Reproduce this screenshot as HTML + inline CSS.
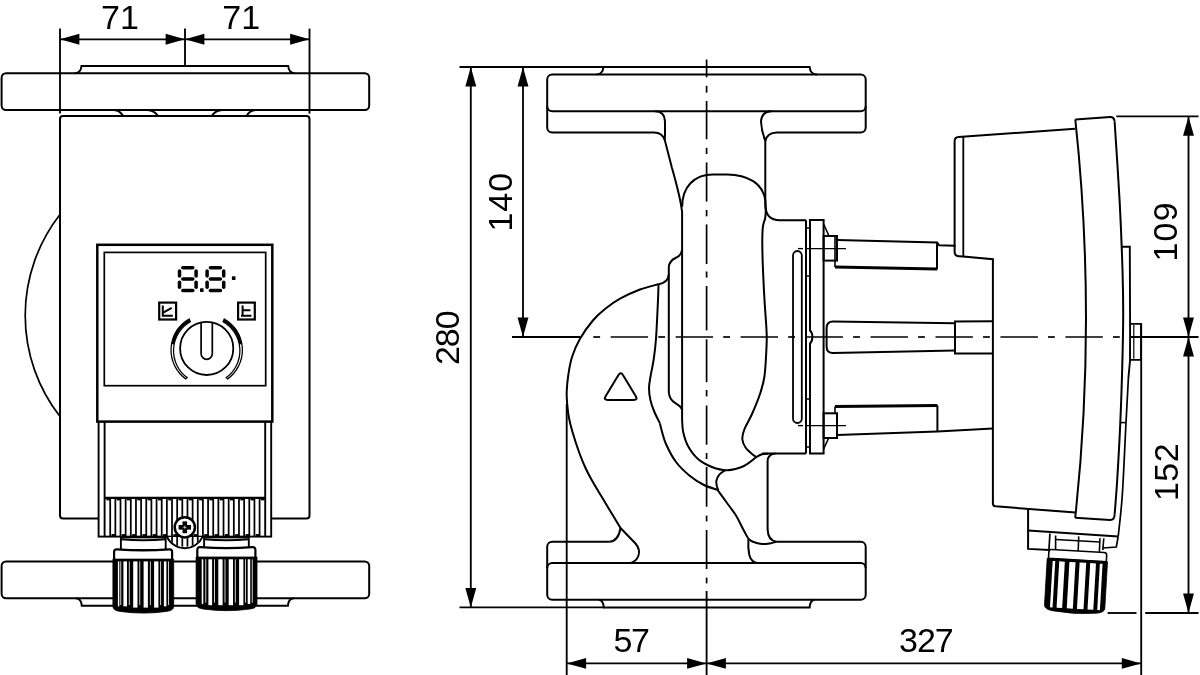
<!DOCTYPE html>
<html><head><meta charset="utf-8"><title>Pump dimension drawing</title>
<style>
html,body{margin:0;padding:0;background:#fff;}
body{width:1200px;height:675px;overflow:hidden;font-family:"Liberation Sans",sans-serif;}
svg{display:block;will-change:transform;}
</style></head><body>
<svg width="1200" height="675" viewBox="0 0 1200 675" font-family="Liberation Sans, sans-serif" fill="#000">
<rect x="1.60" y="73.20" width="367.60" height="36.80" rx="4.50" fill="#fff" stroke="#000" stroke-width="2.0"/>
<path d="M75,73.2 Q81,72.8 81.5,66 H288.2 Q288.7,72.8 294.7,73.2" fill="none" stroke="#000" stroke-width="2.0" />
<path d="M60,214.5 A164,164 0 0 0 60,416.5" fill="none" stroke="#000" stroke-width="1.7" />
<rect x="60.00" y="116.00" width="249.50" height="402.60" rx="3.00" fill="#fff" stroke="#000" stroke-width="2.0"/>
<path d="M114.0,110 Q120.0,110.3 123.0,116" fill="none" stroke="#000" stroke-width="2.0" />
<path d="M255.6,110 Q249.6,110.3 246.6,116" fill="none" stroke="#000" stroke-width="2.0" />
<path d="M147.3,110 Q154.2,110.3 158.0,116" fill="none" stroke="#000" stroke-width="2.0" />
<path d="M222.3,110 Q215.5,110.3 211.6,116" fill="none" stroke="#000" stroke-width="2.0" />
<rect x="98.60" y="400.00" width="172.60" height="136.60" rx="0.00" fill="#fff" stroke="#000" stroke-width="1.9"/>
<rect x="97.30" y="244.80" width="175.00" height="176.80" rx="0.00" fill="#fff" stroke="#000" stroke-width="2.5"/>
<rect x="104.30" y="252.40" width="161.40" height="133.30" rx="0.00" fill="none" stroke="#000" stroke-width="1.7"/>
<line x1="104.60" y1="421.60" x2="104.60" y2="536.60" stroke="#000" stroke-width="1.9" />
<line x1="265.20" y1="421.60" x2="265.20" y2="536.60" stroke="#000" stroke-width="1.9" />
<line x1="104.60" y1="497.90" x2="265.20" y2="497.90" stroke="#000" stroke-width="2.4" />
<line x1="110.20" y1="498.00" x2="110.20" y2="536.60" stroke="#000" stroke-width="1.75" />
<line x1="115.35" y1="498.00" x2="115.35" y2="536.60" stroke="#000" stroke-width="1.75" />
<line x1="120.50" y1="498.00" x2="120.50" y2="536.60" stroke="#000" stroke-width="1.75" />
<line x1="125.65" y1="498.00" x2="125.65" y2="536.60" stroke="#000" stroke-width="1.75" />
<line x1="130.80" y1="498.00" x2="130.80" y2="536.60" stroke="#000" stroke-width="1.75" />
<line x1="135.96" y1="498.00" x2="135.96" y2="536.60" stroke="#000" stroke-width="1.75" />
<line x1="141.11" y1="498.00" x2="141.11" y2="536.60" stroke="#000" stroke-width="1.75" />
<line x1="146.26" y1="498.00" x2="146.26" y2="536.60" stroke="#000" stroke-width="1.75" />
<line x1="151.41" y1="498.00" x2="151.41" y2="536.60" stroke="#000" stroke-width="1.75" />
<line x1="156.56" y1="498.00" x2="156.56" y2="536.60" stroke="#000" stroke-width="1.75" />
<line x1="161.71" y1="498.00" x2="161.71" y2="536.60" stroke="#000" stroke-width="1.75" />
<line x1="166.86" y1="498.00" x2="166.86" y2="536.60" stroke="#000" stroke-width="1.75" />
<line x1="172.01" y1="498.00" x2="172.01" y2="536.60" stroke="#000" stroke-width="1.75" />
<line x1="177.16" y1="498.00" x2="177.16" y2="536.60" stroke="#000" stroke-width="1.75" />
<line x1="182.31" y1="498.00" x2="182.31" y2="536.60" stroke="#000" stroke-width="1.75" />
<line x1="187.47" y1="498.00" x2="187.47" y2="536.60" stroke="#000" stroke-width="1.75" />
<line x1="192.62" y1="498.00" x2="192.62" y2="536.60" stroke="#000" stroke-width="1.75" />
<line x1="197.77" y1="498.00" x2="197.77" y2="536.60" stroke="#000" stroke-width="1.75" />
<line x1="202.92" y1="498.00" x2="202.92" y2="536.60" stroke="#000" stroke-width="1.75" />
<line x1="208.07" y1="498.00" x2="208.07" y2="536.60" stroke="#000" stroke-width="1.75" />
<line x1="213.22" y1="498.00" x2="213.22" y2="536.60" stroke="#000" stroke-width="1.75" />
<line x1="218.37" y1="498.00" x2="218.37" y2="536.60" stroke="#000" stroke-width="1.75" />
<line x1="223.52" y1="498.00" x2="223.52" y2="536.60" stroke="#000" stroke-width="1.75" />
<line x1="228.67" y1="498.00" x2="228.67" y2="536.60" stroke="#000" stroke-width="1.75" />
<line x1="233.82" y1="498.00" x2="233.82" y2="536.60" stroke="#000" stroke-width="1.75" />
<line x1="238.98" y1="498.00" x2="238.98" y2="536.60" stroke="#000" stroke-width="1.75" />
<line x1="244.13" y1="498.00" x2="244.13" y2="536.60" stroke="#000" stroke-width="1.75" />
<line x1="249.28" y1="498.00" x2="249.28" y2="536.60" stroke="#000" stroke-width="1.75" />
<line x1="254.43" y1="498.00" x2="254.43" y2="536.60" stroke="#000" stroke-width="1.75" />
<line x1="259.58" y1="498.00" x2="259.58" y2="536.60" stroke="#000" stroke-width="1.75" />
<line x1="106.40" y1="499.60" x2="109.90" y2="499.60" stroke="#000" stroke-width="1.6" />
<line x1="111.55" y1="535.20" x2="115.05" y2="535.20" stroke="#000" stroke-width="2.2" />
<line x1="116.70" y1="499.60" x2="120.20" y2="499.60" stroke="#000" stroke-width="1.6" />
<line x1="121.85" y1="535.20" x2="125.35" y2="535.20" stroke="#000" stroke-width="2.2" />
<line x1="127.00" y1="499.60" x2="130.50" y2="499.60" stroke="#000" stroke-width="1.6" />
<line x1="132.16" y1="535.20" x2="135.66" y2="535.20" stroke="#000" stroke-width="2.2" />
<line x1="137.31" y1="499.60" x2="140.81" y2="499.60" stroke="#000" stroke-width="1.6" />
<line x1="142.46" y1="535.20" x2="145.96" y2="535.20" stroke="#000" stroke-width="2.2" />
<line x1="147.61" y1="499.60" x2="151.11" y2="499.60" stroke="#000" stroke-width="1.6" />
<line x1="152.76" y1="535.20" x2="156.26" y2="535.20" stroke="#000" stroke-width="2.2" />
<line x1="157.91" y1="499.60" x2="161.41" y2="499.60" stroke="#000" stroke-width="1.6" />
<line x1="163.06" y1="535.20" x2="166.56" y2="535.20" stroke="#000" stroke-width="2.2" />
<line x1="168.21" y1="499.60" x2="171.71" y2="499.60" stroke="#000" stroke-width="1.6" />
<line x1="173.36" y1="535.20" x2="176.86" y2="535.20" stroke="#000" stroke-width="2.2" />
<line x1="178.51" y1="499.60" x2="182.01" y2="499.60" stroke="#000" stroke-width="1.6" />
<line x1="183.67" y1="535.20" x2="187.17" y2="535.20" stroke="#000" stroke-width="2.2" />
<line x1="188.82" y1="499.60" x2="192.32" y2="499.60" stroke="#000" stroke-width="1.6" />
<line x1="193.97" y1="535.20" x2="197.47" y2="535.20" stroke="#000" stroke-width="2.2" />
<line x1="199.12" y1="499.60" x2="202.62" y2="499.60" stroke="#000" stroke-width="1.6" />
<line x1="204.27" y1="535.20" x2="207.77" y2="535.20" stroke="#000" stroke-width="2.2" />
<line x1="209.42" y1="499.60" x2="212.92" y2="499.60" stroke="#000" stroke-width="1.6" />
<line x1="214.57" y1="535.20" x2="218.07" y2="535.20" stroke="#000" stroke-width="2.2" />
<line x1="219.72" y1="499.60" x2="223.22" y2="499.60" stroke="#000" stroke-width="1.6" />
<line x1="224.87" y1="535.20" x2="228.37" y2="535.20" stroke="#000" stroke-width="2.2" />
<line x1="230.02" y1="499.60" x2="233.52" y2="499.60" stroke="#000" stroke-width="1.6" />
<line x1="235.18" y1="535.20" x2="238.68" y2="535.20" stroke="#000" stroke-width="2.2" />
<line x1="240.33" y1="499.60" x2="243.83" y2="499.60" stroke="#000" stroke-width="1.6" />
<line x1="245.48" y1="535.20" x2="248.98" y2="535.20" stroke="#000" stroke-width="2.2" />
<line x1="250.63" y1="499.60" x2="254.13" y2="499.60" stroke="#000" stroke-width="1.6" />
<line x1="255.78" y1="535.20" x2="259.28" y2="535.20" stroke="#000" stroke-width="2.2" />
<line x1="260.93" y1="499.60" x2="264.43" y2="499.60" stroke="#000" stroke-width="1.6" />
<clipPath id="clipc"><circle cx="184.8" cy="527.3" r="19.6"/></clipPath>
<g clip-path="url(#clipc)">
<rect x="160" y="537" width="50" height="12" fill="#fff"/>
<line x1="166.86" y1="536.00" x2="166.86" y2="550.00" stroke="#000" stroke-width="1.75" />
<line x1="172.01" y1="536.00" x2="172.01" y2="550.00" stroke="#000" stroke-width="1.75" />
<line x1="177.16" y1="536.00" x2="177.16" y2="550.00" stroke="#000" stroke-width="1.75" />
<line x1="182.31" y1="536.00" x2="182.31" y2="550.00" stroke="#000" stroke-width="1.75" />
<line x1="187.47" y1="536.00" x2="187.47" y2="550.00" stroke="#000" stroke-width="1.75" />
<line x1="192.62" y1="536.00" x2="192.62" y2="550.00" stroke="#000" stroke-width="1.75" />
<line x1="197.77" y1="536.00" x2="197.77" y2="550.00" stroke="#000" stroke-width="1.75" />
<line x1="202.92" y1="536.00" x2="202.92" y2="550.00" stroke="#000" stroke-width="1.75" />
</g>
<path d="M166.9,536.6 A19.6,19.6 0 0 0 202.7,536.6" fill="none" stroke="#000" stroke-width="1.9" />
<circle cx="184.8" cy="527.3" r="10.1" fill="#fff" stroke="#000" stroke-width="2.5"/>
<line x1="178.60" y1="527.30" x2="191.00" y2="527.30" stroke="#000" stroke-width="4.6" />
<line x1="184.80" y1="521.40" x2="184.80" y2="533.20" stroke="#000" stroke-width="4.6" />
<line x1="183.20" y1="527.30" x2="186.40" y2="527.30" stroke="#000" stroke-width="0.7" style="stroke:#fff"/>
<line x1="184.80" y1="525.70" x2="184.80" y2="528.90" stroke="#000" stroke-width="0.7" style="stroke:#fff"/>
<line x1="182.80" y1="267.70" x2="192.80" y2="267.70" stroke="#000" stroke-width="3.5" stroke-linecap="round"/>
<line x1="182.80" y1="279.10" x2="192.80" y2="279.10" stroke="#000" stroke-width="3.5" stroke-linecap="round"/>
<line x1="182.80" y1="290.60" x2="192.80" y2="290.60" stroke="#000" stroke-width="3.5" stroke-linecap="round"/>
<line x1="179.50" y1="271.10" x2="179.50" y2="275.90" stroke="#000" stroke-width="3.5" stroke-linecap="round"/>
<line x1="179.50" y1="282.30" x2="179.50" y2="287.30" stroke="#000" stroke-width="3.5" stroke-linecap="round"/>
<line x1="196.10" y1="271.10" x2="196.10" y2="275.90" stroke="#000" stroke-width="3.5" stroke-linecap="round"/>
<line x1="196.10" y1="282.30" x2="196.10" y2="287.30" stroke="#000" stroke-width="3.5" stroke-linecap="round"/>
<line x1="210.40" y1="267.70" x2="220.40" y2="267.70" stroke="#000" stroke-width="3.5" stroke-linecap="round"/>
<line x1="210.40" y1="279.10" x2="220.40" y2="279.10" stroke="#000" stroke-width="3.5" stroke-linecap="round"/>
<line x1="210.40" y1="290.60" x2="220.40" y2="290.60" stroke="#000" stroke-width="3.5" stroke-linecap="round"/>
<line x1="207.10" y1="271.10" x2="207.10" y2="275.90" stroke="#000" stroke-width="3.5" stroke-linecap="round"/>
<line x1="207.10" y1="282.30" x2="207.10" y2="287.30" stroke="#000" stroke-width="3.5" stroke-linecap="round"/>
<line x1="223.70" y1="271.10" x2="223.70" y2="275.90" stroke="#000" stroke-width="3.5" stroke-linecap="round"/>
<line x1="223.70" y1="282.30" x2="223.70" y2="287.30" stroke="#000" stroke-width="3.5" stroke-linecap="round"/>
<rect x="200.00" y="288.30" width="3.60" height="3.60" rx="0.60" fill="#000" stroke="#000" stroke-width="0"/>
<rect x="231.90" y="276.30" width="3.60" height="3.60" rx="0.60" fill="#000" stroke="#000" stroke-width="0"/>
<rect x="159.20" y="302.60" width="16.90" height="16.90" rx="0.00" fill="none" stroke="#000" stroke-width="2.2"/>
<path d="M162.8,305.4 V315.7 H172.8 M162.8,312.9 L171.7,307.9" fill="none" stroke="#000" stroke-width="2.0" />
<rect x="238.10" y="302.60" width="16.70" height="16.90" rx="0.00" fill="none" stroke="#000" stroke-width="2.2"/>
<path d="M242.6,305.4 V315.7 M241,315.7 H251.4 M242.6,310.3 H250.4" fill="none" stroke="#000" stroke-width="2.0" />
<circle cx="206.7" cy="348.4" r="26.6" fill="none" stroke="#000" stroke-width="1.8"/>
<path d="M201.1,322.6 V353.7 A5.6,5.6 0 0 0 212.3,353.7 V322.6" fill="none" stroke="#000" stroke-width="1.7" />
<path d="M224.28,318.93 A35.7,35.7 0 0 1 227.68,378.88 L226.21,377.56 A33.2,33.2 0 0 0 223.05,321.80 Z" fill="none" stroke="#000" stroke-width="1.25" />
<path d="M223.95,320.42 A34.5,34.5 0 0 1 240.68,344.31" fill="none" stroke="#000" stroke-width="2.6" />
<path d="M189.12,318.93 A35.7,35.7 0 0 0 185.72,378.88 L187.19,377.56 A33.2,33.2 0 0 1 190.35,321.80 Z" fill="none" stroke="#000" stroke-width="1.25" />
<path d="M189.45,320.42 A34.5,34.5 0 0 0 172.72,344.31" fill="none" stroke="#000" stroke-width="2.6" />
<rect x="1.60" y="561.50" width="367.60" height="36.80" rx="4.50" fill="#fff" stroke="#000" stroke-width="2.0"/>
<path d="M75.8,598.3 Q81.3,598.6 81.8,605.8 H287.9 Q288.4,598.6 293.9,598.3" fill="none" stroke="#000" stroke-width="2.0" />
<rect x="120.90" y="537.4" width="44.80" height="12.70" fill="#fff" stroke="#000" stroke-width="1.9"/>
<path d="M120.90,539.3 Q143.30,541.4 165.70,539.3" fill="none" stroke="#000" stroke-width="2.0" />
<path d="M114.10,561.10 V552.10 Q114.10,549.10 117.10,549.30 Q143.30,551.30 169.10,549.30 Q172.10,549.10 172.10,552.10 V561.10 Z" fill="#fff" stroke="#000" stroke-width="2.2" />
<path d="M112.90,559.10 H173.70 V606.50 Q173.70,610.40 166.70,611.40 Q143.30,614.80 119.90,611.40 Q112.90,610.40 112.90,606.50 Z" fill="#000" stroke="#000" stroke-width="0.8" />
<rect x="117.90" y="561.40" width="1.40" height="44.90" fill="#fff"/>
<rect x="123.40" y="561.40" width="3.60" height="44.90" fill="#fff"/>
<rect x="133.20" y="561.40" width="4.30" height="46.20" fill="#fff"/>
<rect x="143.60" y="561.40" width="4.30" height="46.20" fill="#fff"/>
<rect x="154.10" y="561.40" width="4.30" height="46.20" fill="#fff"/>
<rect x="163.90" y="561.40" width="2.50" height="44.90" fill="#fff"/>
<rect x="120.40" y="561.40" width="0.80" height="43.60" fill="#fff"/>
<rect x="128.85" y="561.40" width="0.80" height="43.60" fill="#fff"/>
<rect x="139.40" y="561.40" width="0.80" height="43.60" fill="#fff"/>
<rect x="149.90" y="561.40" width="0.80" height="43.60" fill="#fff"/>
<rect x="160.25" y="561.40" width="0.80" height="43.60" fill="#fff"/>
<rect x="168.20" y="561.40" width="0.80" height="43.60" fill="#fff"/>
<rect x="204.10" y="537.4" width="44.70" height="10.60" fill="#fff" stroke="#000" stroke-width="1.9"/>
<path d="M204.10,539.3 Q226.55,541.4 248.80,539.3" fill="none" stroke="#000" stroke-width="2.0" />
<path d="M197.30,559.00 V550.00 Q197.30,547.00 200.30,547.20 Q226.55,549.20 252.40,547.20 Q255.40,547.00 255.40,550.00 V559.00 Z" fill="#fff" stroke="#000" stroke-width="2.2" />
<path d="M196.10,557.00 H257.00 V604.10 Q257.00,608.00 250.00,609.00 Q226.55,612.40 203.10,609.00 Q196.10,608.00 196.10,604.10 Z" fill="#000" stroke="#000" stroke-width="0.8" />
<rect x="201.70" y="559.30" width="1.60" height="44.60" fill="#fff"/>
<rect x="208.40" y="559.30" width="3.70" height="45.90" fill="#fff"/>
<rect x="218.30" y="559.30" width="4.30" height="45.90" fill="#fff"/>
<rect x="228.70" y="559.30" width="4.30" height="45.90" fill="#fff"/>
<rect x="239.10" y="559.30" width="4.30" height="45.90" fill="#fff"/>
<rect x="247.70" y="559.30" width="2.50" height="44.60" fill="#fff"/>
<rect x="205.40" y="559.30" width="0.80" height="43.30" fill="#fff"/>
<rect x="214.10" y="559.30" width="0.80" height="43.30" fill="#fff"/>
<rect x="224.60" y="559.30" width="0.80" height="43.30" fill="#fff"/>
<rect x="234.85" y="559.30" width="0.80" height="43.30" fill="#fff"/>
<rect x="245.05" y="559.30" width="0.80" height="43.30" fill="#fff"/>
<rect x="251.80" y="559.30" width="0.80" height="43.30" fill="#fff"/>
<line x1="60.00" y1="28.60" x2="60.00" y2="113.60" stroke="#000" stroke-width="1.85" />
<line x1="185.00" y1="28.60" x2="185.00" y2="65.70" stroke="#000" stroke-width="1.85" />
<line x1="309.50" y1="28.60" x2="309.50" y2="113.60" stroke="#000" stroke-width="1.85" />
<line x1="60.00" y1="39.30" x2="309.50" y2="39.30" stroke="#000" stroke-width="1.85" />
<polygon points="60.00,39.30 79.40,33.85 79.40,44.75" fill="#000"/>
<polygon points="185.00,39.30 165.60,33.85 165.60,44.75" fill="#000"/>
<polygon points="185.00,39.30 204.40,33.85 204.40,44.75" fill="#000"/>
<polygon points="309.50,39.30 290.10,33.85 290.10,44.75" fill="#000"/>
<text x="120.00" y="29.30" text-anchor="middle" font-size="34" letter-spacing="0" >71</text>
<text x="241.20" y="29.30" text-anchor="middle" font-size="34" letter-spacing="0" >71</text>
<line x1="459.50" y1="67.00" x2="603.50" y2="67.00" stroke="#000" stroke-width="1.85" />
<line x1="459.50" y1="607.40" x2="603.80" y2="607.40" stroke="#000" stroke-width="1.85" />
<line x1="470.80" y1="67.00" x2="470.80" y2="607.40" stroke="#000" stroke-width="1.85" />
<polygon points="470.80,67.00 465.35,86.40 476.25,86.40" fill="#000"/>
<polygon points="470.80,607.40 465.35,588.00 476.25,588.00" fill="#000"/>
<line x1="523.00" y1="67.00" x2="523.00" y2="337.00" stroke="#000" stroke-width="1.85" />
<polygon points="523.00,67.00 517.55,86.40 528.45,86.40" fill="#000"/>
<polygon points="523.00,337.00 517.55,317.60 528.45,317.60" fill="#000"/>
<line x1="512.00" y1="337.00" x2="580.00" y2="337.00" stroke="#000" stroke-width="1.85" />
<text transform="translate(459.20,337.70) rotate(-90)" x="-0.50" text-anchor="middle" font-size="34" letter-spacing="-1.0" >280</text>
<text transform="translate(512.40,202.20) rotate(-90)" x="0.50" text-anchor="middle" font-size="34" letter-spacing="1.0" >140</text>
<line x1="566.70" y1="404.00" x2="566.70" y2="675.00" stroke="#000" stroke-width="1.85" />
<line x1="706.60" y1="591.00" x2="706.60" y2="675.00" stroke="#000" stroke-width="1.85" />
<line x1="1141.20" y1="323.50" x2="1141.20" y2="675.00" stroke="#000" stroke-width="1.85" />
<line x1="566.70" y1="663.40" x2="1141.20" y2="663.40" stroke="#000" stroke-width="1.85" />
<polygon points="566.70,663.40 586.10,657.95 586.10,668.85" fill="#000"/>
<polygon points="706.50,663.40 687.10,657.95 687.10,668.85" fill="#000"/>
<polygon points="706.50,663.40 725.90,657.95 725.90,668.85" fill="#000"/>
<polygon points="1141.20,663.40 1121.80,657.95 1121.80,668.85" fill="#000"/>
<text x="631.05" y="651.60" text-anchor="middle" font-size="34" letter-spacing="-1.3" >57</text>
<text x="925.90" y="651.90" text-anchor="middle" font-size="34" letter-spacing="-1.0" >327</text>
<line x1="1116.30" y1="116.40" x2="1198.50" y2="116.40" stroke="#000" stroke-width="1.85" />
<line x1="1130.50" y1="337.00" x2="1198.50" y2="337.00" stroke="#000" stroke-width="1.85" />
<line x1="1107.60" y1="613.00" x2="1136.50" y2="613.00" stroke="#000" stroke-width="1.85" />
<line x1="1145.20" y1="613.00" x2="1198.50" y2="613.00" stroke="#000" stroke-width="1.85" />
<line x1="1188.50" y1="116.40" x2="1188.50" y2="613.00" stroke="#000" stroke-width="1.85" />
<polygon points="1188.50,116.40 1183.05,135.80 1193.95,135.80" fill="#000"/>
<polygon points="1188.50,337.00 1183.05,317.60 1193.95,317.60" fill="#000"/>
<polygon points="1188.50,337.00 1183.05,356.40 1193.95,356.40" fill="#000"/>
<polygon points="1188.50,613.00 1183.05,593.60 1193.95,593.60" fill="#000"/>
<text transform="translate(1177.30,232.00) rotate(-90)" x="0.60" text-anchor="middle" font-size="34" letter-spacing="1.2" >109</text>
<text transform="translate(1177.50,472.20) rotate(-90)" x="0.20" text-anchor="middle" font-size="34" letter-spacing="0.4" >152</text>
<line x1="706.60" y1="59.50" x2="706.60" y2="77.30" stroke="#000" stroke-width="1.7" />
<line x1="706.60" y1="85.80" x2="706.60" y2="92.60" stroke="#000" stroke-width="1.7" />
<line x1="706.60" y1="101.00" x2="706.60" y2="139.30" stroke="#000" stroke-width="1.7" />
<line x1="706.60" y1="147.80" x2="706.60" y2="154.00" stroke="#000" stroke-width="1.7" />
<line x1="706.60" y1="162.40" x2="706.60" y2="201.60" stroke="#000" stroke-width="1.7" />
<line x1="706.60" y1="210.00" x2="706.60" y2="216.30" stroke="#000" stroke-width="1.7" />
<line x1="706.60" y1="224.40" x2="706.60" y2="264.00" stroke="#000" stroke-width="1.7" />
<line x1="706.60" y1="271.50" x2="706.60" y2="277.60" stroke="#000" stroke-width="1.7" />
<line x1="706.60" y1="286.00" x2="706.60" y2="330.40" stroke="#000" stroke-width="1.7" />
<line x1="706.60" y1="339.30" x2="706.60" y2="382.20" stroke="#000" stroke-width="1.7" />
<line x1="706.60" y1="390.00" x2="706.60" y2="396.40" stroke="#000" stroke-width="1.7" />
<line x1="706.60" y1="405.50" x2="706.60" y2="444.70" stroke="#000" stroke-width="1.7" />
<line x1="706.60" y1="453.00" x2="706.60" y2="459.00" stroke="#000" stroke-width="1.7" />
<line x1="706.60" y1="467.00" x2="706.60" y2="506.70" stroke="#000" stroke-width="1.7" />
<line x1="706.60" y1="515.60" x2="706.60" y2="521.40" stroke="#000" stroke-width="1.7" />
<line x1="706.60" y1="530.00" x2="706.60" y2="569.00" stroke="#000" stroke-width="1.7" />
<line x1="706.60" y1="577.60" x2="706.60" y2="583.40" stroke="#000" stroke-width="1.7" />
<line x1="610.70" y1="337.00" x2="648.10" y2="337.00" stroke="#000" stroke-width="1.7" />
<line x1="675.66" y1="337.00" x2="713.06" y2="337.00" stroke="#000" stroke-width="1.7" />
<line x1="740.62" y1="337.00" x2="778.02" y2="337.00" stroke="#000" stroke-width="1.7" />
<line x1="805.58" y1="337.00" x2="842.98" y2="337.00" stroke="#000" stroke-width="1.7" />
<line x1="870.54" y1="337.00" x2="907.94" y2="337.00" stroke="#000" stroke-width="1.7" />
<line x1="935.50" y1="337.00" x2="972.90" y2="337.00" stroke="#000" stroke-width="1.7" />
<line x1="1000.46" y1="337.00" x2="1037.86" y2="337.00" stroke="#000" stroke-width="1.7" />
<line x1="1065.42" y1="337.00" x2="1102.82" y2="337.00" stroke="#000" stroke-width="1.7" />
<line x1="593.30" y1="337.00" x2="600.10" y2="337.00" stroke="#000" stroke-width="1.7" />
<line x1="658.26" y1="337.00" x2="665.06" y2="337.00" stroke="#000" stroke-width="1.7" />
<line x1="723.22" y1="337.00" x2="730.02" y2="337.00" stroke="#000" stroke-width="1.7" />
<line x1="788.18" y1="337.00" x2="794.98" y2="337.00" stroke="#000" stroke-width="1.7" />
<line x1="853.14" y1="337.00" x2="859.94" y2="337.00" stroke="#000" stroke-width="1.7" />
<line x1="918.10" y1="337.00" x2="924.90" y2="337.00" stroke="#000" stroke-width="1.7" />
<line x1="983.06" y1="337.00" x2="989.86" y2="337.00" stroke="#000" stroke-width="1.7" />
<line x1="1048.02" y1="337.00" x2="1054.82" y2="337.00" stroke="#000" stroke-width="1.7" />
<line x1="1112.98" y1="337.00" x2="1119.78" y2="337.00" stroke="#000" stroke-width="1.7" />
<path d="M552.2,74.6 H860.7 A5,5 0 0 1 865.7,79.6 V127.4 A5,5 0 0 1 860.7,132.4 H776.9 Q767,132.6 765.3,141 M654,132.4 H552.2 A5,5 0 0 1 547.2,127.4 V79.6 A5,5 0 0 1 552.2,74.6 M654,132.4 Q662.5,132.6 664.8,140.2" fill="none" stroke="#000" stroke-width="2.0" />
<path d="M547.2,106.3 A5,5 0 0 0 552.2,111.3 H655.5 Q664.3,111.6 664.9,120.5 Q665.2,130 664.8,140.2 L672,168 Q680.5,198 682.1,212 V420" fill="none" stroke="#000" stroke-width="2.0" />
<path d="M865.7,106.3 A5,5 0 0 1 860.7,111.3 H771 Q761.8,111.6 761,121.5 Q761.5,131 765.3,141 V205 Q765.6,220.2 780,220.2 H806" fill="none" stroke="#000" stroke-width="2.0" />
<path d="M596.3,74.6 Q602.8,74.2 603.5,67 H809.6 Q810.3,74.2 816.9,74.6" fill="none" stroke="#000" stroke-width="2.0" />
<line x1="655.00" y1="111.30" x2="771.50" y2="111.30" stroke="#000" stroke-width="2.0" />
<line x1="630.00" y1="563.10" x2="756.00" y2="563.10" stroke="#000" stroke-width="2.0" />
<path d="M682.1,207 C682.1,187 694,174.4 713,174.4 H727 C748,174.4 763,184 765.3,200" fill="none" stroke="#000" stroke-width="2.0" />
<path d="M765.30,200.00 C765.38,201.67 765.82,207.00 765.80,210.00 C765.78,213.00 765.67,215.33 765.20,218.00 C764.73,220.67 763.48,222.33 763.00,226.00 C762.52,229.67 762.33,233.50 762.30,240.00 C762.27,246.50 762.43,255.00 762.80,265.00 C763.17,275.00 763.88,289.17 764.50,300.00 C765.12,310.83 766.15,322.50 766.50,330.00 C766.85,337.50 766.93,337.33 766.60,345.00 C766.27,352.67 765.60,367.83 764.50,376.00 C763.40,384.17 762.08,387.67 760.00,394.00 C757.92,400.33 754.58,408.17 752.00,414.00 C749.42,419.83 746.12,424.83 744.50,429.00 C742.88,433.17 742.13,435.92 742.30,439.00 C742.47,442.08 743.88,445.00 745.50,447.50 C747.12,450.00 750.17,452.42 752.00,454.00 C753.83,455.58 755.75,456.50 756.50,457.00" fill="none" stroke="#000" stroke-width="2.0" />
<path d="M682.1,249.3 Q681.5,255.5 675.5,258 Q669.3,261 668.8,267 V274.5 Q668,282.8 658.5,284.2" fill="none" stroke="#000" stroke-width="2.0" />
<path d="M668.8,274.5 V392 Q669.3,399.5 675,402.8 Q681.3,406.3 682.1,410" fill="none" stroke="#000" stroke-width="2.0" />
<path d="M658.50,284.20 C655.42,285.08 646.42,287.08 640.00,289.50 C633.58,291.92 625.83,295.45 620.00,298.70 C614.17,301.95 609.45,305.45 605.00,309.00 C600.55,312.55 597.47,315.05 593.30,320.00 C589.13,324.95 583.55,332.53 580.00,338.70 C576.45,344.87 573.95,350.95 572.00,357.00 C570.05,363.05 569.18,369.17 568.30,375.00 C567.42,380.83 566.88,387.17 566.70,392.00 C566.52,396.83 566.82,399.67 567.20,404.00 C567.58,408.33 568.12,413.33 569.00,418.00 C569.88,422.67 570.83,426.33 572.50,432.00 C574.17,437.67 576.83,446.00 579.00,452.00 C581.17,458.00 583.33,463.25 585.50,468.00 C587.67,472.75 588.58,474.50 592.00,480.50 C595.42,486.50 601.25,496.08 606.00,504.00 C610.75,511.92 618.08,524.00 620.50,528.00" fill="none" stroke="#000" stroke-width="2.0" />
<path d="M620.5,528 Q618.5,541 609.3,541.8" fill="none" stroke="#000" stroke-width="2.0" />
<path d="M620.5,528 L635.5,543.5 Q640.5,549.5 638.5,555.5 Q636.5,561.5 630,563.1" fill="none" stroke="#000" stroke-width="2.0" />
<path d="M658.50,284.20 C658.42,286.83 658.42,290.92 658.00,300.00 C657.58,309.08 656.73,328.70 656.00,338.70 C655.27,348.70 654.50,353.78 653.60,360.00 C652.70,366.22 651.37,371.33 650.60,376.00 C649.83,380.67 649.03,384.00 649.00,388.00 C648.97,392.00 649.57,396.17 650.40,400.00 C651.23,403.83 652.40,407.08 654.00,411.00 C655.60,414.92 659.00,421.42 660.00,423.50" fill="none" stroke="#000" stroke-width="2.0" />
<path d="M660.00,423.50 C660.22,424.42 660.30,425.58 661.30,429.00 C662.30,432.42 663.55,438.50 666.00,444.00 C668.45,449.50 672.00,456.67 676.00,462.00 C680.00,467.33 685.33,472.17 690.00,476.00 C694.67,479.83 699.42,482.70 704.00,485.00 C708.58,487.30 715.25,489.00 717.50,489.80" fill="none" stroke="#000" stroke-width="2.0" />
<path d="M717.50,489.80 C719.08,492.00 723.92,498.72 727.00,503.00 C730.08,507.28 733.33,511.17 736.00,515.50 C738.67,519.83 740.97,525.17 743.00,529.00 C745.03,532.83 747.33,536.92 748.20,538.50" fill="none" stroke="#000" stroke-width="2.0" />
<path d="M682.10,420.00 C682.28,422.00 682.22,427.67 683.20,432.00 C684.18,436.33 685.53,441.50 688.00,446.00 C690.47,450.50 694.00,455.50 698.00,459.00 C702.00,462.50 707.17,465.13 712.00,467.00 C716.83,468.87 721.67,470.37 727.00,470.20 C732.33,470.03 739.08,468.20 744.00,466.00 C748.92,463.80 753.50,458.97 756.50,457.00 C759.50,455.03 760.08,454.77 762.00,454.20 C763.92,453.63 767.00,453.70 768.00,453.60" fill="none" stroke="#000" stroke-width="2.0" />
<path d="M725,470.6 Q717.5,473.5 716.2,481.5 Q716.3,486.5 718.3,490.3" fill="none" stroke="#000" stroke-width="2.0" />
<path d="M748.20,538.50 C749.00,539.05 750.70,540.88 753.00,541.80 C755.30,542.72 759.17,543.73 762.00,544.00 C764.83,544.27 767.58,543.77 770.00,543.40 C772.42,543.03 775.42,542.07 776.50,541.80" fill="none" stroke="#000" stroke-width="2.0" />
<path d="M748.4,538.8 Q747.8,548 749.3,555 Q751.3,562.5 758,563.1" fill="none" stroke="#000" stroke-width="2.0" />
<path d="M776.5,541.8 Q768,540.5 767.6,529.4 V461.5 Q767.8,454 775.5,453.6" fill="none" stroke="#000" stroke-width="2.0" />
<line x1="762.00" y1="453.60" x2="806.00" y2="453.60" stroke="#000" stroke-width="2.0" />
<path d="M609.3,541.8 H552.2 A5,5 0 0 0 547.2,546.8 V594.8 A5,5 0 0 0 552.2,599.8 H860.7 A5,5 0 0 0 865.7,594.8 V546.8 A5,5 0 0 0 860.7,541.8 H776.5" fill="none" stroke="#000" stroke-width="2.0" />
<path d="M547.2,568.1 A5,5 0 0 1 552.2,563.1 H630.7" fill="none" stroke="#000" stroke-width="2.0" />
<path d="M865.7,568.1 A5,5 0 0 0 860.7,563.1 H755.2" fill="none" stroke="#000" stroke-width="2.0" />
<path d="M598.8,599.8 Q603.1,600.2 603.8,607.4 H809.6 Q810.3,600.2 814.6,599.8" fill="none" stroke="#000" stroke-width="2.0" />
<path d="M622.92,374.96 Q620.70,371.30 618.48,374.96 L605.60,396.15 Q603.20,400.10 607.82,400.10 L633.58,400.10 Q638.20,400.10 635.80,396.15 Z" fill="none" stroke="#000" stroke-width="2.0" />
<line x1="806.00" y1="220.20" x2="806.00" y2="453.60" stroke="#000" stroke-width="2.0" />
<path d="M810,220 V330.5 Q812.4,332.5 812.4,337 Q812.4,341.5 810,343.5 V453.6 H823.6 V220 Z" fill="none" stroke="#000" stroke-width="2.0" />
<line x1="806.00" y1="228.00" x2="810.00" y2="228.00" stroke="#000" stroke-width="1.55" />
<line x1="806.00" y1="276.00" x2="810.00" y2="276.00" stroke="#000" stroke-width="1.55" />
<line x1="806.00" y1="399.00" x2="810.00" y2="399.00" stroke="#000" stroke-width="1.55" />
<line x1="806.00" y1="447.00" x2="810.00" y2="447.00" stroke="#000" stroke-width="1.55" />
<rect x="793.00" y="251.00" width="8.80" height="172.00" rx="4.40" fill="none" stroke="#000" stroke-width="1.8"/>
<rect x="823.60" y="236.00" width="13.40" height="24.60" rx="0.00" fill="none" stroke="#000" stroke-width="2.0"/>
<line x1="835.00" y1="236.00" x2="835.00" y2="267.00" stroke="#000" stroke-width="1.6" />
<line x1="823.60" y1="224.00" x2="829.00" y2="236.00" stroke="#000" stroke-width="1.6" />
<line x1="798.00" y1="248.60" x2="803.00" y2="248.60" stroke="#000" stroke-width="1.35" />
<line x1="806.00" y1="248.60" x2="846.00" y2="248.60" stroke="#000" stroke-width="1.35" />
<path d="M837,240 L937,242.4 V269.6" fill="none" stroke="#000" stroke-width="2.0" />
<line x1="835.00" y1="267.00" x2="937.00" y2="268.90" stroke="#000" stroke-width="3.0" />
<path d="M937,242.4 L939,245.2 L955.6,245.7" fill="none" stroke="#000" stroke-width="2.0" />
<rect x="823.60" y="413.30" width="13.40" height="24.70" rx="0.00" fill="none" stroke="#000" stroke-width="2.0"/>
<line x1="835.00" y1="406.60" x2="835.00" y2="413.30" stroke="#000" stroke-width="1.6" />
<line x1="823.60" y1="449.00" x2="828.70" y2="438.00" stroke="#000" stroke-width="1.6" />
<line x1="798.00" y1="425.60" x2="803.00" y2="425.60" stroke="#000" stroke-width="1.35" />
<line x1="805.00" y1="425.60" x2="846.00" y2="425.60" stroke="#000" stroke-width="1.35" />
<line x1="835.00" y1="406.60" x2="937.40" y2="405.40" stroke="#000" stroke-width="3.0" />
<path d="M937.4,405.4 V431.5" fill="none" stroke="#000" stroke-width="2.0" />
<path d="M837,434.9 L937.4,431.5 L992.9,428.4" fill="none" stroke="#000" stroke-width="2.0" />
<path d="M955,323.3 L833,321.4 Q826.6,321.4 826.6,328 V346.5 Q826.6,353 833,353 L955,350.6" fill="none" stroke="#000" stroke-width="2.0" />
<path d="M992.9,321.3 L955,321.5 V353.4 L992.9,353.6" fill="none" stroke="#000" stroke-width="2.0" />
<path d="M1075.2,128.7 L958.4,137 Q954.6,137.2 954.6,141.2 V252 Q954.6,256 959,256.3 L963,256.6 L992.9,259.2 V503.5 Q992.9,506 995.5,506.3 L1075.6,512.6" fill="none" stroke="#000" stroke-width="2.0" />
<line x1="963.30" y1="137.00" x2="963.30" y2="256.40" stroke="#000" stroke-width="1.8" />
<path d="M1075.3,119.5 L1110,117 Q1114.2,116.9 1114.6,121.5" fill="none" stroke="#000" stroke-width="2.0" />
<path d="M1114.60,121.50 C1115.45,134.98 1118.38,177.65 1119.70,202.40 C1121.02,227.15 1121.92,251.23 1122.50,270.00 C1123.08,288.77 1123.23,299.17 1123.20,315.00 C1123.17,330.83 1122.78,347.07 1122.30,365.00 C1121.82,382.93 1121.15,403.43 1120.30,422.60 C1119.45,441.77 1118.15,464.63 1117.20,480.00 C1116.25,495.37 1115.03,509.00 1114.60,514.80" fill="none" stroke="#000" stroke-width="2.0" />
<path d="M1114.6,514.8 Q1114.3,520.3 1110,520.1 L1075.2,517.8" fill="none" stroke="#000" stroke-width="2.0" />
<path d="M1075.3,119.5 A1856,1856 0 0 1 1075.2,517.8" fill="none" stroke="#000" stroke-width="2.0" />
<path d="M1121.8,246.8 H1129.8 L1130.1,330 L1130,361 L1128.4,378" fill="none" stroke="#000" stroke-width="1.9" />
<path d="M1128.40,378.00 C1128.00,385.43 1127.02,403.10 1126.00,422.60 C1124.98,442.10 1123.60,476.03 1122.30,495.00 C1121.00,513.97 1118.88,529.50 1118.20,536.40" fill="none" stroke="#000" stroke-width="1.7" />
<line x1="1120.30" y1="422.60" x2="1126.00" y2="422.60" stroke="#000" stroke-width="1.55" />
<path d="M1130,323.8 H1141 V359.8 H1130" fill="none" stroke="#000" stroke-width="1.7" />
<line x1="1133.80" y1="325.00" x2="1133.80" y2="358.80" stroke="#000" stroke-width="1.2" />
<path d="M1028.1,509 V548.9 L1049.9,549.9" fill="none" stroke="#000" stroke-width="2.0" />
<line x1="1028.10" y1="530.60" x2="1118.20" y2="536.40" stroke="#000" stroke-width="2.0" />
<path d="M1118.2,536.4 L1116.3,547 L1102.8,548" fill="none" stroke="#000" stroke-width="1.7" />
<line x1="1049.90" y1="533.50" x2="1048.90" y2="551.00" stroke="#000" stroke-width="1.7" />
<line x1="1055.60" y1="535.50" x2="1055.60" y2="549.00" stroke="#000" stroke-width="1.6" />
<line x1="1078.70" y1="536.40" x2="1078.20" y2="551.00" stroke="#000" stroke-width="1.6" />
<line x1="1099.90" y1="538.30" x2="1099.40" y2="552.00" stroke="#000" stroke-width="1.6" />
<line x1="1103.80" y1="538.30" x2="1102.80" y2="550.00" stroke="#000" stroke-width="1.6" />
<line x1="1055.60" y1="539.50" x2="1099.90" y2="542.00" stroke="#000" stroke-width="1.6" />
<g transform="rotate(3.3 1076 580)">
<path d="M1047.3,560 V553.5 Q1047.3,551 1050,551 H1102.5 Q1105.2,551 1105.2,553.5 V560 Z" fill="#fff" stroke="#000" stroke-width="1.6" />
<path d="M1046,560 H1106.4 L1106.4,607 Q1106,611 1098,612 Q1076,614.8 1054,612 Q1046.4,611 1046,607 Z" fill="#000" stroke="#000" stroke-width="0.8" />
<rect x="1051.60" y="562.3" width="2.60" height="46.50" fill="#fff"/>
<rect x="1058.20" y="562.3" width="5.60" height="46.50" fill="#fff"/>
<rect x="1068.40" y="562.3" width="6.10" height="46.50" fill="#fff"/>
<rect x="1078.60" y="562.3" width="6.60" height="46.50" fill="#fff"/>
<rect x="1089.20" y="562.3" width="5.80" height="46.50" fill="#fff"/>
<rect x="1098.90" y="562.3" width="2.70" height="46.50" fill="#fff"/>
</g>
</svg>
</body></html>
